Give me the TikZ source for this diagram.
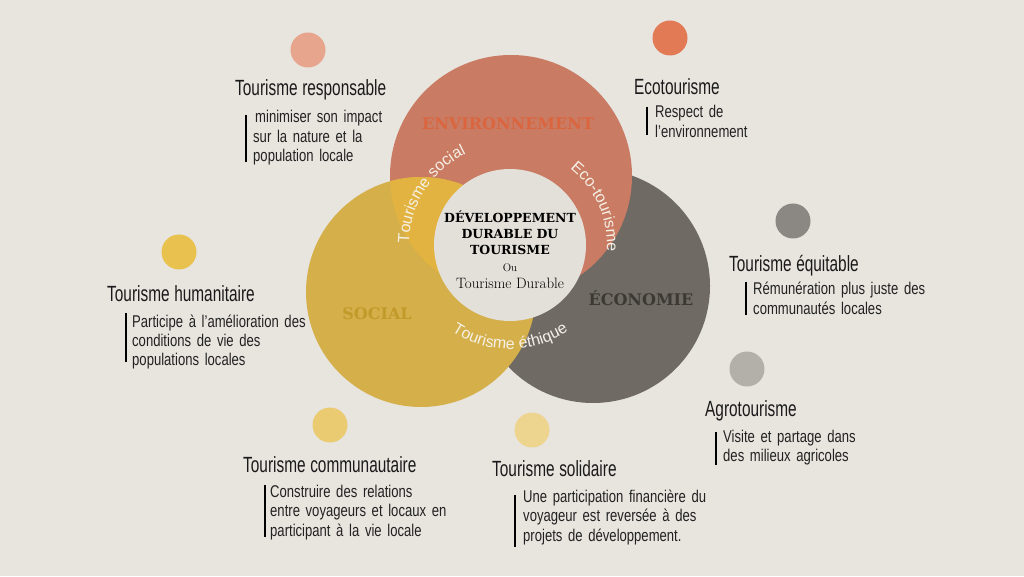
\documentclass[tikz,border=0pt]{standalone}
\usepackage{fontspec}
\usetikzlibrary{decorations.text}
\newfontfamily\ttlfont{Liberation Sans}[FakeStretch=0.70]
\newfontfamily\dscfont{Liberation Sans}[FakeStretch=0.77]
\newfontfamily\arcfont{Liberation Sans}
\newfontfamily\slabfont{DejaVu Serif}
\newcommand\ttlspacing{\spaceskip=4.6pt plus 1pt minus 1pt\relax}
\newcommand\dscspacing{\spaceskip=3.6pt plus 1pt minus 0.5pt\relax}
\definecolor{bg}{HTML}{E8E5DF}
\definecolor{envc}{HTML}{C97B63}
\definecolor{envtxt}{HTML}{DA653E}
\definecolor{socc}{HTML}{D4AF4A}
\definecolor{soctxt}{HTML}{C29A2A}
\definecolor{ryint}{HTML}{E2B340}
\definecolor{ecoc}{HTML}{6F6A64}
\definecolor{ecotxt}{HTML}{3C3935}
\definecolor{corec}{HTML}{E3E0D9}
\definecolor{arcwhite}{HTML}{F6F1E6}
\definecolor{dotA}{HTML}{E8A58E}
\definecolor{dotB}{HTML}{E27A55}
\definecolor{dotC}{HTML}{8B8782}
\definecolor{dotD}{HTML}{E8C14E}
\definecolor{dotE}{HTML}{B3B0AA}
\definecolor{dotF}{HTML}{EACB72}
\definecolor{dotG}{HTML}{EDD590}
\definecolor{ttlc}{HTML}{1A1A1A}
\definecolor{dscc}{HTML}{222222}
\begin{document}
\begin{tikzpicture}[x=1pt,y=1pt,
  dotnode/.style={circle, minimum size=35pt, inner sep=0pt, draw=none},
  ttl/.style={anchor=base west, inner sep=0pt, text=ttlc, font=\ttlfont\fontsize{22}{26}\selectfont\ttlspacing},
  dsc/.style={anchor=base west, inner sep=0pt, align=left, text width=240pt, text=dscc, font=\dscfont\fontsize{17}{19.5}\selectfont\dscspacing},
  barline/.style={line width=2.6pt, draw=black},
  biglbl/.style={inner sep=0pt, font=\slabfont\bfseries\fontsize{16}{18}\selectfont},
  arctxt/.style={decorate, decoration={text along path, text align=center, text={|\arcfont\fontsize{16}{16}\selectfont\color{arcwhite}|#1}}}
]
\useasboundingbox (0,0) rectangle (1024,576);
\fill[bg] (0,0) rectangle (1024,576);

% big circles
\fill[ecoc] (593,290) circle[radius=117pt];
\fill[envc] (511,400) circle[radius=121pt];
\fill[socc] (421,284) circle[radius=115pt];
\begin{scope}
  \clip (511,400) circle[radius=121pt];
  \fill[ryint] (421,284) circle[radius=115pt];
\end{scope}
\fill[corec] (510,331) circle[radius=76pt];

% circle labels
\node[biglbl, text=envtxt] (env) at (508,452) {ENVIRONNEMENT};
\node[biglbl, text=soctxt] (soc) at (377,262) {SOCIAL};
\node[biglbl, text=ecotxt] (eco) at (641,278) {ÉCONOMIE};

% core text
\node[inner sep=0pt, align=center, text=black, font=\slabfont\bfseries\fontsize{12.5}{16}\selectfont] (core) at (510,343) {DÉVELOPPEMENT\\DURABLE DU\\TOURISME};
\node[inner sep=0pt, font=\fontsize{11}{12}\selectfont] (ou) at (510,308) {Ou};
\node[inner sep=0pt, font=\fontsize{15}{17}\selectfont] (td) at (510,293) {Tourisme Durable};

% curved texts
\path[arctxt={Tourisme social}] (510,331) ++(185:101pt) arc[start angle=185, end angle=110, radius=101pt];
\path[arctxt={Eco-tourisme}] (510,331) ++(62:97pt) arc[start angle=62, end angle=-14, radius=97pt];
\path[arctxt={Tourisme éthique}] (510,331) ++(226:104pt) arc[start angle=226, end angle=314, radius=104pt];

% dots
\node[dotnode, fill=dotA] (dA) at (308,526) {};
\node[dotnode, fill=dotB] (dB) at (670,538) {};
\node[dotnode, fill=dotC] (dC) at (793,355) {};
\node[dotnode, fill=dotD] (dD) at (179,324) {};
\node[dotnode, fill=dotE] (dE) at (747,207) {};
\node[dotnode, fill=dotF] (dF) at (330,151) {};
\node[dotnode, fill=dotG] (dG) at (532,146) {};

% titles
\node[ttl] (tA) at (235,480) {Tourisme responsable};
\node[ttl] (tB) at (634,481) {Ecotourisme};
\node[ttl] (tC) at (729,304) {Tourisme équitable};
\node[ttl] (tD) at (107,274) {Tourisme humanitaire};
\node[ttl] (tE) at (705,160) {Agrotourisme};
\node[ttl] (tF) at (243,104) {Tourisme communautaire};
\node[ttl] (tG) at (492,100) {Tourisme solidaire};

% descriptions
\node[dsc] (xA) at (253,453) {\hspace{2pt}minimiser son impact\\sur la nature et la\\population locale};
\node[dsc] (xB) at (655,458) {Respect de\\l’environnement};
\node[dsc] (xC) at (753,281) {Rémunération plus juste des\\communautés locales};
\node[dsc] (xD) at (132,249) {Participe à l’amélioration des\\conditions de vie des\\populations locales};
\node[dsc] (xE) at (723,134) {Visite et partage dans\\des milieux agricoles};
\node[dsc] (xF) at (270,79) {Construire des relations\\entre voyageurs et locaux en\\participant à la vie locale};
\node[dsc] (xG) at (523,74) {Une participation financière du\\voyageur est reversée à des\\projets de développement.};

% bars
\draw[barline] (246,461) -- (246,414);
\draw[barline] (647,469) -- (647,441);
\draw[barline] (746,294) -- (746,261);
\draw[barline] (126,263) -- (126,214);
\draw[barline] (716,144) -- (716,111);
\draw[barline] (265,91) -- (265,39);
\draw[barline] (515,81) -- (515,29);
\end{tikzpicture}
\end{document}
